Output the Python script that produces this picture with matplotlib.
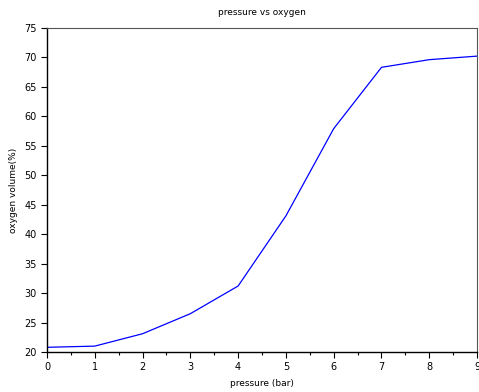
import matplotlib.pyplot as plt
from matplotlib.ticker import MultipleLocator

pressure = [0, 1, 2, 3, 4, 5, 6, 7, 8, 9]
oxygen = [20.8, 21.0, 23.1, 26.5, 31.2, 43.1, 57.9, 68.3, 69.6, 70.2]

fig = plt.figure(figsize=(4.79, 3.92), dpi=100)
ax = fig.add_axes([0.098, 0.102, 0.898, 0.827])

ax.plot(pressure, oxygen, color='#0000ff', linewidth=0.9)

ax.set_xlim(0, 9)
ax.set_ylim(20, 75)
ax.xaxis.set_major_locator(MultipleLocator(1))
ax.xaxis.set_minor_locator(MultipleLocator(0.5))
ax.yaxis.set_major_locator(MultipleLocator(5))

ax.tick_params(axis='both', which='major', direction='out', length=4, width=0.8,
               labelsize=7, top=False, right=False)
ax.tick_params(axis='x', which='minor', direction='out', length=2.5, width=0.8)

for side in ['top', 'right']:
    ax.spines[side].set_color('#555555')
for side in ['left', 'bottom']:
    ax.spines[side].set_linewidth(1.0)

ax.set_title('pressure vs oxygen', fontsize=6.5, pad=9)
ax.set_xlabel('pressure (bar)', fontsize=6.5, labelpad=5)
ax.set_ylabel('oxygen volume(%)', fontsize=6.5, labelpad=4)

fig.savefig('out.png', dpi=100)
